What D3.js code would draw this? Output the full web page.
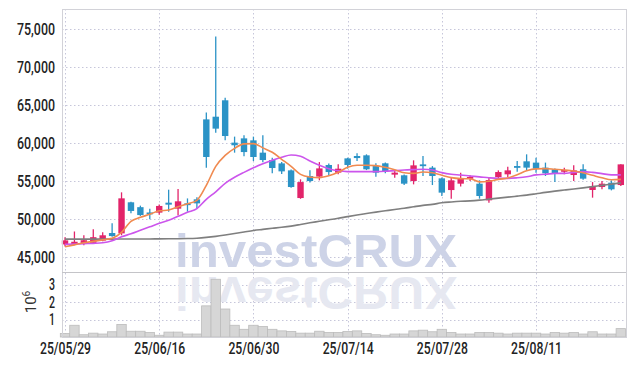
<!DOCTYPE html>
<html><head><meta charset="utf-8">
<script src="https://cdn.jsdelivr.net/npm/d3@7"></script>
<style>body{margin:0;background:#fff}svg{display:block}</style>
</head><body>
<svg id="c" width="634" height="366"></svg>
<script>
// ---- data ----
const dates = ["25/05/29","25/05/30","25/06/02","25/06/04","25/06/05","25/06/09","25/06/10","25/06/11","25/06/12","25/06/13",
"25/06/16","25/06/17","25/06/18","25/06/19","25/06/20","25/06/23","25/06/24","25/06/25","25/06/26","25/06/27",
"25/06/30","25/07/01","25/07/02","25/07/03","25/07/04","25/07/07","25/07/08","25/07/09","25/07/10","25/07/11",
"25/07/14","25/07/15","25/07/16","25/07/17","25/07/18","25/07/21","25/07/22","25/07/23","25/07/24","25/07/25",
"25/07/28","25/07/29","25/07/30","25/07/31","25/08/01","25/08/04","25/08/05","25/08/06","25/08/07","25/08/08",
"25/08/11","25/08/12","25/08/13","25/08/14","25/08/18","25/08/19","25/08/20","25/08/21","25/08/22","25/08/25"];
const openP = [46700,46750,46800,46900,47200,48200,48150,52240,51600,50900, 50880,52190,51400,52100,52630,63150,63500,65660,60090,60650,
60390,58770,57800,57360,56440,52800,55700,55620,57150,56140, 58020,58330,58420,57010,57370,55880,55790,55040,57230,56800,
55390,53850,54690,55350,54690,52500,55560,55920,57010,57630, 57460,56800,56580,56270,55830,56580,53860,54250,54820,54510];
const closeP = [47230,47050,47250,47650,47900,47800,52760,51100,50560,50700, 51760,51930,52370,51900,52100,58200,61930,60960,59740,58850,
58200,57800,56750,56310,54250,54900,55040,56700,56220,56660, 57150,58060,56580,56140,56360,56140,54690,57100,57010,55700,
53510,55130,55390,55570,53070,55170,56220,56440,56800,56800, 56660,56050,56010,56490,56440,55350,54380,54690,53950,57230];
const highP = [47630,48400,47900,48700,48300,49470,53550,52300,51800,51400, 51950,53900,54000,52750,52900,64040,74040,66010,60880,61050,
60880,61050,58100,57530,56550,55260,56440,57530,57330,57230, 58110,58680,58550,57370,57460,56350,55900,57760,58330,57000,
55500,55480,56140,55790,55130,55480,56440,56930,57670,58550, 58110,57460,56700,56800,57100,57230,54900,55040,55130,57230];
const lowP = [46440,46600,46600,46800,47100,47700,47900,50800,50450,50000, 50600,51000,50550,51000,51500,56800,61400,60390,58770,58290,
57670,57500,56050,55960,54150,52700,54830,55130,55790,55920, 56670,57670,56480,55610,56050,55480,54510,54600,55700,54510,
53070,52720,54330,55040,52720,52190,55350,55570,56270,56440, 56140,55700,54900,55920,55040,55210,52850,53950,53810,54380];
const volume = [200000,670000,130000,220000,170000,300000,720000,330000,330000,260000, 100000,280000,280000,170000,170000,1780000,3300000,1600000,670000,440000,
670000,600000,440000,350000,320000,220000,220000,330000,260000,260000, 310000,350000,200000,130000,100000,170000,170000,350000,390000,300000,
440000,260000,170000,170000,260000,260000,220000,170000,220000,220000, 220000,170000,260000,220000,260000,170000,300000,170000,170000,480000];
const maShort = [46380,46640,46910,47100,47300,47500,48290,49740,50260,50660, 51120,51220,51640,52040,52500,54470,56970,58420,59340,59930,
59960,59400,58820,57900,56970,55920,55570,55490,55720,56180, 56840,57110,57110,57070,56840,56510,56120,56050,56220,56120,
55790,55490,55360,55330,54930,55000,55260,55430,55850,56380, 56640,56670,56580,56490,56360,56120,55790,55460,55200,55260];
const maMid = [46710,46750,46800,46840,46910,47170,47700,48090,48550,49010, 49470,49870,50390,50920,51410,52630,53620,54740,55530,56180,
56780,57300,57760,58160,58460,58290,57670,57110,56650,56380, 56280,56280,56280,56280,56320,56410,56490,56540,56580,56490,
56140,55920,55830,55700,55590,55460,55390,55390,55460,55590, 55850,55920,56050,56050,56180,56280,56180,56010,55850,55850];
const maLong = [47400,47400,47400,47400,47400,47400,47410,47410,47420,47420, 47430,47440,47450,47470,47520,47620,47760,47940,48140,48340,
48540,48680,48820,48950,49110,49320,49540,49740,49940,50130, 50360,50570,50760,50950,51120,51290,51450,51650,51840,51970,
52170,52280,52370,52430,52530,52660,52790,52920,53050,53180, 53360,53550,53710,53850,53990,54140,54300,54470,54630,54800];
const priceTicks = [45000,50000,55000,60000,65000,70000,75000];
const volTicks = [1000000,2000000,3000000];
const dateTickIdx = [0,10,20,30,40,50];

// ---- layout ----
const L=62,R=626,T=9,MID=272,B=337;
const svg = d3.select("#c");
const x = d3.scaleLinear().domain([-0.32,59.55]).range([L,R]);
const y = d3.scaleLinear().domain([43070,77670]).range([MID,T]);
const yv = d3.scaleLinear().domain([0,3000000]).range([B,284.5]);
const step = x(1)-x(0);
const idx = d3.range(dates.length);
const FONT = "Roboto,'DejaVu Sans',sans-serif";
const gridCol = "#c6c6da";

// grid
const grid = svg.append("g").attr("stroke",gridCol).attr("stroke-width",1).attr("stroke-dasharray","1.5,2.5");
grid.selectAll(".hp").data(priceTicks).join("line")
  .attr("x1",L).attr("x2",R).attr("y1",d=>Math.round(y(d))+0.5).attr("y2",d=>Math.round(y(d))+0.5);
grid.selectAll(".hv").data(volTicks).join("line")
  .attr("x1",L).attr("x2",R).attr("y1",d=>Math.round(yv(d))+0.5).attr("y2",d=>Math.round(yv(d))+0.5);
grid.selectAll(".vv").data(dateTickIdx).join("line")
  .attr("x1",d=>Math.round(x(d))+0.5).attr("x2",d=>Math.round(x(d))+0.5).attr("y1",T).attr("y2",B);

// watermark
const wm = svg.append("g").attr("font-family","'Liberation Sans',Arial,sans-serif").attr("font-weight","bold").attr("font-size",47);
wm.append("text").attr("x",175).attr("y",267).attr("textLength",282).attr("lengthAdjust","spacingAndGlyphs")
  .attr("fill","#cdd3e7").text("investCRUX");
wm.append("text").attr("x",175).attr("y",267).attr("textLength",282).attr("lengthAdjust","spacingAndGlyphs")
  .attr("transform",`translate(0,${2*272}) scale(1,-1)`).attr("fill","#e6e8f1").text("investCRUX");

// volume bars
svg.append("g").selectAll("rect").data(idx).join("rect")
  .attr("x",i=>x(i)-step/2).attr("width",step)
  .attr("y",i=>yv(volume[i])).attr("height",i=>B-yv(volume[i]))
  .attr("fill","#d6d6d6").attr("stroke","#bcbcbc").attr("stroke-width",0.8);

// candles
const up="#e2246a", dn="#2b93c6";
const cg = svg.append("g");
cg.selectAll("line").data(idx).join("line")
  .attr("x1",i=>x(i)).attr("x2",i=>x(i)).attr("y1",i=>y(highP[i])).attr("y2",i=>y(lowP[i]))
  .attr("stroke",i=>closeP[i]>=openP[i]?up:dn).attr("stroke-width",1.3);
cg.selectAll("rect").data(idx).join("rect")
  .attr("x",i=>x(i)-3.2).attr("width",6.4)
  .attr("y",i=>y(Math.max(openP[i],closeP[i])))
  .attr("height",i=>Math.max(1.8,Math.abs(y(openP[i])-y(closeP[i]))))
  .attr("fill",i=>closeP[i]>=openP[i]?up:dn);

// moving averages
const lineGen = arr => d3.line().x(i=>x(i)).y(i=>y(arr[i])).curve(d3.curveMonotoneX)(idx);
svg.append("path").attr("d",lineGen(maLong)).attr("fill","none").attr("stroke","#7f7f7f").attr("stroke-width",1.6);
svg.append("path").attr("d",lineGen(maMid)).attr("fill","none").attr("stroke","#cc55ec").attr("stroke-width",1.6);
svg.append("path").attr("d",lineGen(maShort)).attr("fill","none").attr("stroke","#f08a50").attr("stroke-width",1.6);

// frame
svg.append("rect").attr("x",L+0.5).attr("y",T+0.5).attr("width",R-L).attr("height",B-T)
  .attr("fill","none").attr("stroke","#d2d2d8");
svg.append("line").attr("x1",L).attr("x2",R).attr("y1",MID+0.5).attr("y2",MID+0.5).attr("stroke","#c4c4c8");

// axes
const axY = svg.append("g").attr("transform",`translate(${L},0)`)
  .call(d3.axisLeft(y).tickValues(priceTicks).tickFormat(d3.format(",")).tickSize(0).tickPadding(7));
const axV = svg.append("g").attr("transform",`translate(${L},0)`)
  .call(d3.axisLeft(yv).tickValues(volTicks).tickFormat(d=>d/1e6).tickSize(0).tickPadding(7));
const axX = svg.append("g").attr("transform",`translate(0,${B})`)
  .call(d3.axisBottom(x).tickValues(dateTickIdx).tickFormat(i=>dates[i]).tickSize(0).tickPadding(6));
[axY,axV,axX].forEach(a=>{a.select(".domain").remove();
  a.selectAll("text").attr("font-family",FONT).attr("font-size",16).attr("font-weight",500).attr("fill","#222");});
axY.selectAll("text").attr("textLength",38).attr("lengthAdjust","spacingAndGlyphs");
axX.selectAll("text").attr("textLength",51).attr("lengthAdjust","spacingAndGlyphs");
axV.selectAll("text").attr("textLength",6).attr("lengthAdjust","spacingAndGlyphs");

const ex = svg.append("text").attr("transform","translate(36,302) rotate(-90)").attr("text-anchor","middle")
  .attr("font-family",FONT).attr("font-size",15).attr("fill","#333");
ex.append("tspan").text("10");
ex.append("tspan").attr("dy",-6).attr("font-size",10).text("6");
</script>
</body></html>
